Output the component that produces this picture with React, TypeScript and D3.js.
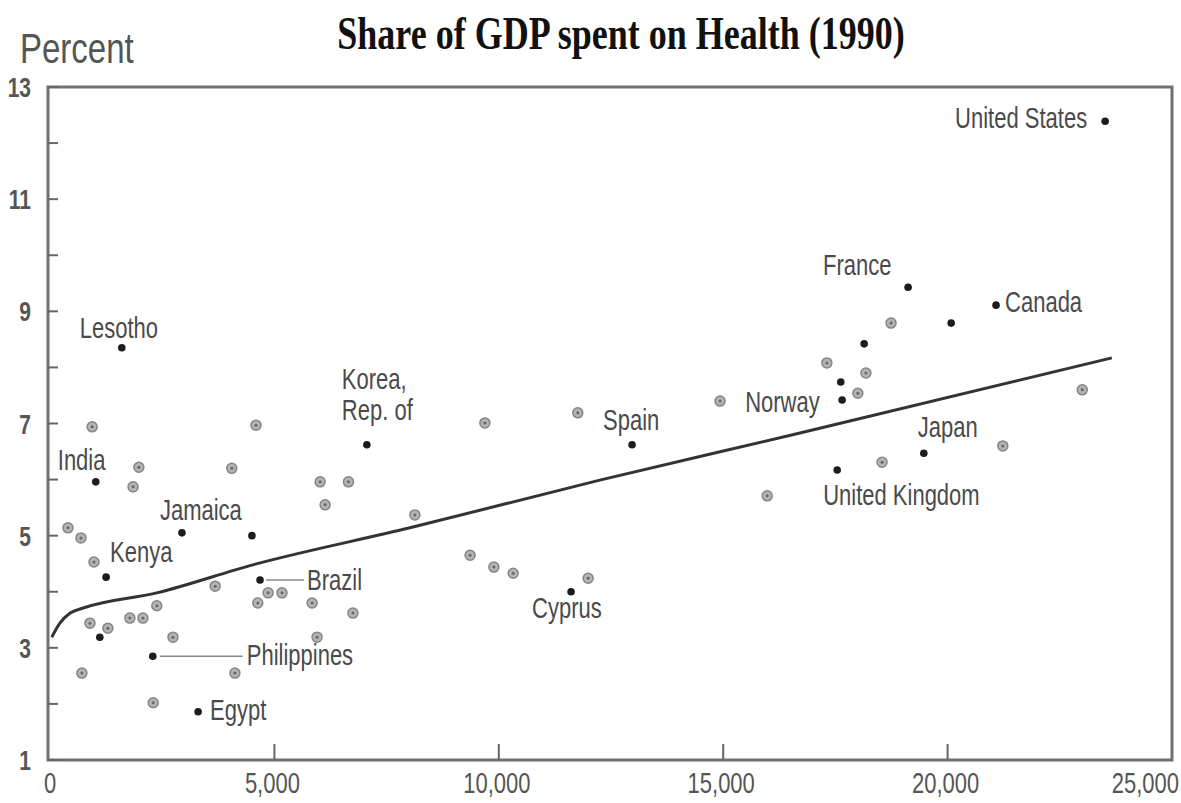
import { useEffect, useRef } from 'react';
import * as d3 from 'd3';

// GDP per capita (US$) vs health spending share of GDP (%), 1990
const labeledNames = ['Lesotho', 'India', 'Korea, Rep. of', 'Jamaica', '', 'Kenya', 'Brazil', 'Philippines', 'Egypt', '',
  'Spain', 'Cyprus', 'Norway', '', '', 'France', '', 'Canada', 'Japan', 'United Kingdom', 'United States'];
const labeledGdp = [1600, 1020, 7060, 2940, 4500, 1250, 4680, 2290, 3300, 1110,
  12970, 11610, 17650, 17620, 18140, 19120, 20080, 21080, 19470, 17540, 23510];
const labeledShare = [8.35, 5.96, 6.62, 5.05, 5.0, 4.26, 4.21, 2.85, 1.86, 3.19,
  6.62, 4.0, 7.42, 7.74, 8.42, 9.43, 8.79, 9.11, 6.47, 6.17, 12.39];

const otherGdp = [940, 4590, 1980, 4050, 1850, 6020, 6650, 6130, 400, 690, 980, 3680, 2380, 890, 1290, 1780, 2070,
  2740, 4120, 5950, 710, 2300, 4860, 5170, 4630, 5840, 6750, 9690, 11760, 14930, 8130, 15980, 9360, 9890, 10320,
  11990, 18740, 17310, 18180, 18000, 23000, 21230, 18540];
const otherShare = [6.94, 6.97, 6.22, 6.2, 5.87, 5.96, 5.96, 5.55, 5.14, 4.96, 4.53, 4.1, 3.75, 3.44, 3.35, 3.53, 3.53,
  3.19, 2.55, 3.19, 2.55, 2.02, 3.98, 3.98, 3.8, 3.8, 3.62, 7.01, 7.19, 7.4, 5.37, 5.71, 4.65, 4.44, 4.33,
  4.24, 8.79, 8.08, 7.9, 7.54, 7.6, 6.6, 6.31];

// fitted curve
const trendGdp = [40, 220, 450, 740, 2380, 4520, 8020, 12250, 16710, 23660];
const trendShare = [3.19, 3.44, 3.62, 3.71, 3.98, 4.48, 5.14, 5.99, 6.83, 8.17];

const yTicks = [1, 3, 5, 7, 9, 11, 13];
const yMinorTicks = [2, 4, 6, 8, 10, 12];
const xTicks = [0, 5000, 10000, 15000, 20000, 25000];
const xTickLabels = ['0', '5,000', '10,000', '15,000', '20,000', '25,000'];

// label placement (px offsets from the point)
const labelLayout = {
  'Lesotho': { dx: -42, dy: -10 },
  'India': { dx: -38, dy: -12 },
  'Korea, Rep. of': { dx: -25, dy: -56 },
  'Jamaica': { dx: -22, dy: -13 },
  'Kenya': { dx: 4, dy: -15 },
  'Brazil': { dx: 47, dy: 10, leader: [6, 44] },
  'Philippines': { dx: 94, dy: 9, leader: [7, 90] },
  'Egypt': { dx: 12, dy: 8 },
  'Spain': { dx: -29, dy: -15 },
  'Cyprus': { dx: -39, dy: 26 },
  'Norway': { dx: -97, dy: 12 },
  'France': { dx: -85, dy: -12 },
  'Canada': { dx: 9, dy: 7 },
  'Japan': { dx: -6, dy: -16 },
  'United Kingdom': { dx: -14, dy: 35 },
  'United States': { dx: -18, dy: 7, anchor: 'end' },
};

export default function App() {
  const svgRef = useRef(null);

  useEffect(() => {
    document.body.style.margin = '0';
    const svg = d3.select(svgRef.current);
    svg.selectAll('*').remove();

    const x = d3.scaleLinear().domain([0, 25000]).range([50, 1172]);
    const y = d3.scaleLinear().domain([1, 13]).range([760, 87]);
    const stretch = 'scale(1,1.3)';
    const font = 'Liberation Sans, Arial, sans-serif';

    // title + y label
    svg.append('text')
      .attr('transform', `translate(621,49) ${stretch}`)
      .attr('text-anchor', 'middle')
      .attr('font-family', 'Liberation Serif, Times New Roman, serif')
      .attr('font-weight', 'bold')
      .attr('font-size', 36)
      .attr('fill', '#111')
      .text('Share of GDP spent on Health (1990)');

    svg.append('text')
      .attr('transform', `translate(20,63) ${stretch}`)
      .attr('font-family', font)
      .attr('font-size', 33)
      .attr('fill', '#555')
      .text('Percent');

    // frame
    const [x0, x1] = x.range();
    const [yb, yt] = y.range();
    svg.append('rect')
      .attr('x', x0 - 2).attr('y', yt)
      .attr('width', x1 - x0 + 2).attr('height', yb - yt)
      .attr('fill', 'none').attr('stroke', '#707070').attr('stroke-width', 3);

    // y ticks
    svg.append('g').selectAll('line')
      .data(yTicks.concat(yMinorTicks))
      .join('line')
      .attr('x1', x0 - 2).attr('x2', x0 + 8)
      .attr('y1', d => y(d)).attr('y2', d => y(d))
      .attr('stroke', '#666').attr('stroke-width', 2);

    svg.append('g').selectAll('text')
      .data(yTicks)
      .join('text')
      .attr('transform', d => `translate(31,${y(d) + 10}) ${stretch}`)
      .attr('text-anchor', 'end')
      .attr('font-family', font)
      .attr('font-weight', 'bold')
      .attr('font-size', 21)
      .attr('fill', '#555')
      .text(d => d);

    // x ticks
    svg.append('g').selectAll('line')
      .data(xTicks.slice(1, -1))
      .join('line')
      .attr('x1', d => x(d)).attr('x2', d => x(d))
      .attr('y1', yb).attr('y2', yb - 16)
      .attr('stroke', '#666').attr('stroke-width', 2);

    // last label sits against the right edge of the page
    const last = xTicks.length - 1;
    svg.append('g').selectAll('text')
      .data(xTicks)
      .join('text')
      .attr('transform', (d, i) => `translate(${i === last ? 1179 : x(d) + (i === 0 ? 0 : -2)},793) ${stretch}`)
      .attr('text-anchor', (d, i) => (i === last ? 'end' : 'middle'))
      .attr('font-family', font)
      .attr('font-size', 22)
      .attr('fill', '#555')
      .text((d, i) => xTickLabels[i]);

    // trend curve
    const line = d3.line()
      .x(d => x(d[0]))
      .y(d => y(d[1]))
      .curve(d3.curveMonotoneX);
    svg.append('path')
      .attr('d', line(trendGdp.map((g, i) => [g, trendShare[i]])))
      .attr('fill', 'none')
      .attr('stroke', '#333')
      .attr('stroke-width', 3);

    // unlabeled grey markers
    const others = otherGdp.map((g, i) => ({ g, s: otherShare[i] }));
    const og = svg.append('g');
    og.selectAll('circle.ring')
      .data(others)
      .join('circle')
      .attr('class', 'ring')
      .attr('cx', d => x(d.g)).attr('cy', d => y(d.s))
      .attr('r', 5)
      .attr('fill', '#b4b4b4')
      .attr('stroke', '#858585')
      .attr('stroke-width', 1.5);
    og.selectAll('circle.core')
      .data(others)
      .join('circle')
      .attr('class', 'core')
      .attr('cx', d => x(d.g)).attr('cy', d => y(d.s))
      .attr('r', 1.5)
      .attr('fill', '#666');

    // dark markers
    const pts = labeledGdp.map((g, i) => ({ name: labeledNames[i], g, s: labeledShare[i] }));
    svg.append('g').selectAll('circle')
      .data(pts)
      .join('circle')
      .attr('cx', d => x(d.g)).attr('cy', d => y(d.s))
      .attr('r', 3.8)
      .attr('fill', '#1c1c1c');

    // labels
    const lg = svg.append('g');
    pts.filter(d => d.name).forEach(d => {
      const lay = labelLayout[d.name];
      const px = x(d.g);
      const py = y(d.s);
      if (lay.leader) {
        lg.append('line')
          .attr('x1', px + lay.leader[0]).attr('x2', px + lay.leader[1])
          .attr('y1', py).attr('y2', py)
          .attr('stroke', '#888').attr('stroke-width', 1.5);
      }
      const lines = d.name === 'Korea, Rep. of' ? ['Korea,', 'Rep. of'] : [d.name];
      lines.forEach((t, k) => {
        lg.append('text')
          .attr('transform', `translate(${px + lay.dx},${py + lay.dy + k * 31}) ${stretch}`)
          .attr('text-anchor', lay.anchor || 'start')
          .attr('font-family', font)
          .attr('font-size', 22)
          .attr('fill', '#4a4a4a')
          .text(t);
      });
    });
  }, []);

  return <svg ref={svgRef} width={1181} height={803} style={{ display: 'block', background: '#fff' }} />;
}
